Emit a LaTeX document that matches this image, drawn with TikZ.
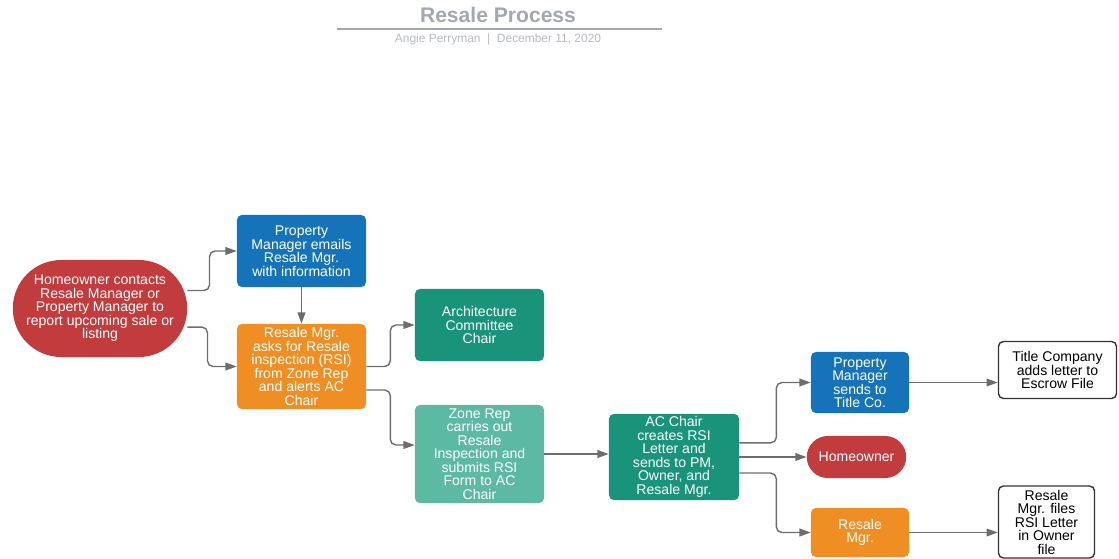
\documentclass[tikz,border=0pt]{standalone}
\usepackage{fontspec}
\setmainfont{Liberation Sans}
\usepackage{xcolor}
\usetikzlibrary{shapes.misc, arrows.meta}

\definecolor{hored}{HTML}{C23B3D}
\definecolor{pmblue}{HTML}{1473B9}
\definecolor{rmorange}{HTML}{EF8E23}
\definecolor{acteal}{HTML}{19937A}
\definecolor{zrteal}{HTML}{5CB9A2}
\definecolor{linegray}{HTML}{6D6D6D}
\definecolor{titlegray}{HTML}{A3A7AF}

\tikzset{
  box/.style={rectangle, rounded corners=3.5pt, text=white, align=center,
    inner sep=2pt, font=\fontsize{10pt}{9.6pt}\selectfont},
  pill/.style={rounded rectangle, text=white, align=center,
    inner sep=2pt, font=\fontsize{10pt}{9.6pt}\selectfont},
  endbox/.style={rectangle, rounded corners=3.5pt, draw=black!80, line width=1pt,
    fill=white, align=center, inner sep=2pt, font=\fontsize{10pt}{9.6pt}\selectfont},
  flow/.style={draw=linegray, line width=1pt, rounded corners=4pt,
    -{Triangle[length=8pt,width=5.5pt]}}
}

\begin{document}
\begin{tikzpicture}[x=0.025cm, y=-0.025cm]
  \useasboundingbox (0,0) rectangle (1119,559);

  % Title
  \node[text=titlegray, font=\fontsize{15pt}{16pt}\selectfont\bfseries] (title) at (498,15) {Resale Process};
  \draw[titlegray, line width=1pt] (337,29) -- (662,29);
  \node[text=titlegray!80, font=\fontsize{8.5pt}{9pt}\selectfont] (sub) at (498,39)
    {Angie Perryman~~|~~December 11, 2020};

  % Left column
  \node[pill, fill=hored, minimum width=4.5cm, minimum height=2.425cm] (ho) at (100,308.5)
    {Homeowner contacts\\Resale Manager or\\Property Manager to\\report upcoming sale or\\listing};
  \node[box, fill=pmblue, minimum width=3.225cm, minimum height=1.8cm] (pme) at (301.5,251)
    {Property\\Manager emails\\Resale Mgr.\\with information};
  \node[box, fill=rmorange, minimum width=3.225cm, minimum height=2.125cm] (rma) at (301.5,366.5)
    {Resale Mgr.\\asks for Resale\\inspection (RSI)\\from Zone Rep\\and alerts AC\\Chair};

  % Middle column
  \node[box, fill=acteal, minimum width=3.225cm, minimum height=1.8cm] (acc) at (479.5,325)
    {Architecture\\Committee\\Chair};
  \node[box, fill=zrteal, minimum width=3.225cm, minimum height=2.45cm] (zr) at (479.5,454)
    {Zone Rep\\carries out\\Resale\\Inspection and\\submits RSI\\Form to AC\\Chair};
  \node[box, fill=acteal, minimum width=3.25cm, minimum height=2.15cm] (acl) at (674,457)
    {AC Chair\\creates RSI\\Letter and\\sends to PM,\\Owner, and\\Resale Mgr.};

  % Right column
  \node[box, fill=pmblue, minimum width=2.45cm, minimum height=1.525cm] (pms) at (860,382.5)
    {Property\\Manager\\sends to\\Title Co.};
  \node[pill, fill=hored, minimum width=2.625cm, minimum height=1.05cm] (ho2) at (856.5,457)
    {Homeowner};
  \node[box, fill=rmorange, minimum width=2.45cm, minimum height=1.225cm] (rm) at (860,532.5)
    {Resale\\Mgr.};
  \node[endbox, minimum width=2.95cm, minimum height=1.425cm] (tc) at (1057.5,370)
    {Title Company\\adds letter to\\Escrow File};
  \node[endbox, minimum width=2.4cm, minimum height=1.8cm] (rmf) at (1046.5,522)
    {Resale\\Mgr. files\\RSI Letter\\in Owner\\file};

  % Connectors
  \draw[flow] ([yshift=12.8pt]ho.east) -- ++(22,0) |- (pme.west);
  \draw[flow] ([yshift=-13.2pt]ho.east) -- ++(20,0) |- (rma.west);
  \draw[flow] (pme.south) -- (rma.north);
  \draw[flow] (rma.east) -- ++(24,0) |- (acc.west);
  \draw[flow] ([yshift=-16.7pt]rma.east) -- ++(24,0) |- ([yshift=6.4pt]zr.west);
  \draw[flow] (zr.east) -- (zr.east -| acl.west);
  \draw[flow] ([yshift=10pt]acl.east) -- ++(37,0) |- (pms.west);
  \draw[flow] (acl.east) -- (ho2.west);
  \draw[flow] ([yshift=-11.4pt]acl.east) -- ++(37,0) |- (rm.west);
  \draw[flow] (pms.east) -- (pms.east -| tc.west);
  \draw[flow] (rm.east) -- (rm.east -| rmf.west);
\end{tikzpicture}
\end{document}
